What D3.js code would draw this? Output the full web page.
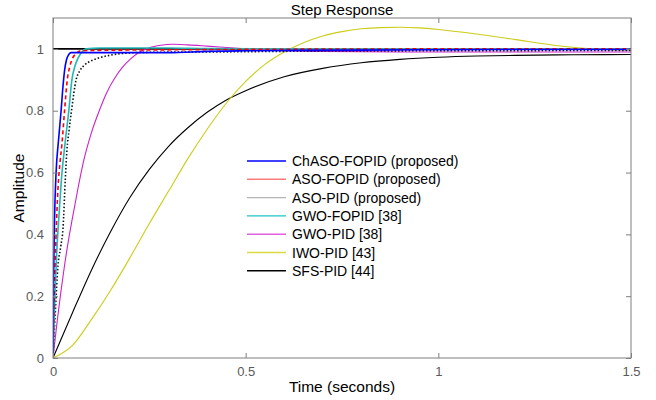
<!DOCTYPE html>
<html><head><meta charset="utf-8">
<script src="https://cdn.jsdelivr.net/npm/d3@7"></script>
<style>body{margin:0;background:#fff}svg{display:block}text{font-family:"Liberation Sans",Arial,sans-serif}</style>
</head><body><svg id="c" width="656" height="400"></svg>
<script>
// ---- data ----
const xTicks = [0, 0.5, 1, 1.5];
const yTicks = [0, 0.2, 0.4, 0.6, 0.8, 1];
const seriesNames = ["ChASO-FOPID (proposed)", "ASO-FOPID (proposed)", "ASO-PID (proposed)", "GWO-FOPID [38]", "GWO-PID [38]", "IWO-PID [43]", "SFS-PID [44]"];

const chasoT = [0, 0.002, 0.004, 0.008, 0.014, 0.021, 0.026, 0.030, 0.035, 0.041, 0.047, 0.06, 0.1, 0.2, 0.3, 0.4, 0.5, 0.8, 1.2, 1.5];
const chasoY = [0, 0.3, 0.45, 0.6, 0.7, 0.8, 0.88, 0.93, 0.965, 0.982, 0.988, 0.988, 0.988, 0.988, 0.988, 0.992, 0.994, 0.996, 0.998, 0.998];

const asofT = [0, 0.003, 0.008, 0.013, 0.018, 0.023, 0.030, 0.037, 0.043, 0.049, 0.06, 0.07, 0.1, 0.3, 0.6, 1.0, 1.5];
const asofY = [0, 0.2, 0.4, 0.55, 0.63, 0.69, 0.8, 0.9, 0.94, 0.965, 0.985, 0.993, 0.995, 0.997, 0.999, 1.0, 1.0];

const asopT = [0, 0.006, 0.013, 0.02, 0.026, 0.032, 0.036, 0.042, 0.048, 0.06, 0.07, 0.082, 0.1, 0.117, 0.15, 0.186, 0.25, 0.4, 0.7, 1.0, 1.5];
const asopY = [0, 0.15, 0.3, 0.36, 0.42, 0.58, 0.67, 0.74, 0.8, 0.9, 0.93, 0.948, 0.962, 0.97, 0.98, 0.986, 0.989, 0.99, 0.993, 0.994, 0.995];

const gwofT = [0, 0.005, 0.010, 0.016, 0.022, 0.030, 0.041, 0.049, 0.057, 0.065, 0.075, 0.086, 0.12, 0.2, 0.3, 0.4, 0.6, 1.0, 1.5];
const gwofY = [0, 0.2, 0.35, 0.47, 0.58, 0.68, 0.8, 0.9, 0.945, 0.97, 0.99, 1.0, 1.003, 1.003, 1.003, 1.001, 1.0, 1.0, 1.0];

const gwopT = [0, 0.01, 0.02, 0.03, 0.04, 0.05, 0.065, 0.08, 0.1, 0.12, 0.14, 0.16, 0.18, 0.2, 0.225, 0.25, 0.28, 0.31, 0.35, 0.4, 0.47, 0.55, 0.7, 0.9, 1.5];
const gwopY = [0, 0.11, 0.21, 0.3, 0.38, 0.45, 0.55, 0.64, 0.73, 0.8, 0.86, 0.905, 0.94, 0.966, 0.99, 1.004, 1.012, 1.015, 1.013, 1.009, 1.003, 0.997, 0.992, 0.99, 0.99];

const iwoT = [0, 0.05, 0.1, 0.15, 0.2, 0.25, 0.3, 0.35, 0.4, 0.45, 0.5, 0.55, 0.6, 0.65, 0.7, 0.75, 0.8, 0.85, 0.9, 0.95, 1.0, 1.1, 1.2, 1.3, 1.4, 1.5];
const iwoY = [0, 0.04, 0.125, 0.22, 0.325, 0.435, 0.54, 0.645, 0.74, 0.825, 0.895, 0.95, 0.99, 1.02, 1.042, 1.056, 1.065, 1.069, 1.07, 1.068, 1.063, 1.048, 1.03, 1.012, 1.0, 0.996];

const sfsT = [0, 0.05, 0.1, 0.15, 0.2, 0.25, 0.3, 0.35, 0.4, 0.45, 0.5, 0.6, 0.7, 0.8, 0.9, 1.0, 1.1, 1.2, 1.35, 1.5];
const sfsY = [0, 0.145, 0.285, 0.41, 0.52, 0.61, 0.685, 0.745, 0.795, 0.835, 0.865, 0.91, 0.937, 0.955, 0.966, 0.973, 0.977, 0.979, 0.981, 0.982];

const refT = [0, 1.5];
const refY = [1, 1];

// ---- layout ----
const svg = d3.select("#c");
const L = 53, R = 631, T = 18, B = 358;
const x = d3.scaleLinear().domain([0, 1.5]).range([L, R]);
const y = d3.scaleLinear().domain([0, 1.1]).range([B, T]);
const axisCol = "#7f7f7f", labCol = "#5a5a5a";

svg.append("clipPath").attr("id", "clip").append("rect").attr("x", L).attr("y", T).attr("width", R - L).attr("height", B - T);

const g = svg.append("g").attr("clip-path", "url(#clip)");
const line = d3.line().x(d => x(d[0])).y(d => y(d[1])).curve(d3.curveMonotoneX);
const zip = (a, b) => a.map((v, i) => [v, b[i]]);

const series = [
  {t: sfsT, v: sfsY, c: "#000000", w: 1.1, dash: null},
  {t: iwoT, v: iwoY, c: "#cccc1a", w: 1.1, dash: null},
  {t: refT, v: refY, c: "#000000", w: 1.8, dash: null},
  {t: gwopT, v: gwopY, c: "#cc22cc", w: 1.1, dash: null},
  {t: asopT, v: asopY, c: "#111111", w: 1.6, dash: "1.5,2"},
  {t: gwofT, v: gwofY, c: "#20b8b8", w: 1.6, dash: null},
  {t: asofT, v: asofY, c: "#ff0000", w: 1.6, dash: "4,3"},
  {t: chasoT, v: chasoY, c: "#0000ff", w: 1.6, dash: null}
];
series.forEach(s => {
  g.append("path").datum(zip(s.t, s.v)).attr("d", line)
    .attr("fill", "none").attr("stroke", s.c).attr("stroke-width", s.w)
    .attr("stroke-dasharray", s.dash);
});

svg.append("rect").attr("x", L).attr("y", T).attr("width", R - L).attr("height", B - T)
  .attr("fill", "none").attr("stroke", axisCol).attr("stroke-width", 1);

const tickStyle = sel => { sel.select(".domain").remove(); sel.selectAll("line").attr("stroke", axisCol); sel.selectAll("text").attr("fill", labCol).attr("font-size", 13); };
svg.append("g").attr("transform", `translate(0,${B})`)
  .call(d3.axisBottom(x).tickValues(xTicks).tickFormat(d3.format("")).tickSizeInner(-5).tickPadding(9)).call(tickStyle);
svg.append("g").attr("transform", `translate(0,${T})`)
  .call(d3.axisTop(x).tickValues(xTicks).tickFormat("").tickSizeInner(-5)).call(tickStyle);
svg.append("g").attr("transform", `translate(${L},0)`)
  .call(d3.axisLeft(y).tickValues(yTicks).tickFormat(d3.format("")).tickSizeInner(-5).tickPadding(9)).call(tickStyle);
svg.append("g").attr("transform", `translate(${R},0)`)
  .call(d3.axisRight(y).tickValues(yTicks).tickFormat("").tickSizeInner(-5)).call(tickStyle);

svg.append("text").attr("x", (L + R) / 2).attr("y", 15).attr("text-anchor", "middle").attr("font-size", 15).attr("fill", "#000").text("Step Response");
svg.append("text").attr("x", (L + R) / 2).attr("y", 392).attr("text-anchor", "middle").attr("font-size", 15.5).attr("fill", "#000").text("Time (seconds)");
svg.append("text").attr("transform", `translate(24,${(T + B) / 2}) rotate(-90)`).attr("text-anchor", "middle").attr("font-size", 15.5).attr("fill", "#000").text("Amplitude");

const legCols = ["#0000ff", "#ff7a7a", "#b4b4b4", "#20c4c4", "#e060e0", "#dada40", "#000000"];
const lg = svg.append("g").attr("transform", "translate(247,161)");
seriesNames.forEach((n, i) => {
  const yy = i * 18.3;
  lg.append("line").attr("x1", 0).attr("x2", 39).attr("y1", yy).attr("y2", yy).attr("stroke", legCols[i]).attr("stroke-width", 1.4);
  lg.append("text").attr("x", 45).attr("y", yy + 5).attr("font-size", 14).attr("fill", "#000").text(n);
});
</script></body></html>
